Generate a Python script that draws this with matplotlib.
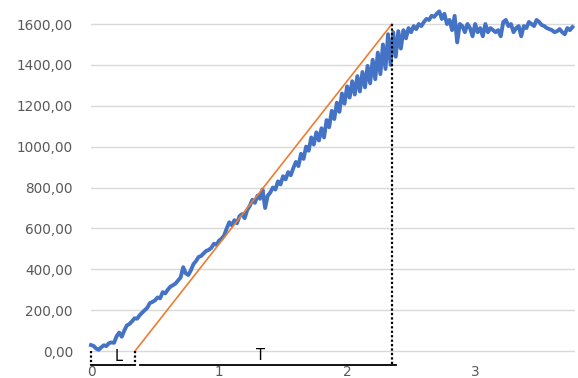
import numpy as np
import matplotlib.pyplot as plt
from matplotlib.ticker import FuncFormatter

# measured curve, sampled every 0.02 on the x axis
x_step = 0.02
values = [
    29, 25, 12, 6, 18, 28, 24, 38, 42, 40,
    72, 90, 70, 100, 125, 132, 145, 160, 158, 175,
    188, 200, 212, 235, 240, 248, 262, 258, 288, 282,
    300, 315, 322, 330, 345, 360, 410, 380, 372, 395,
    425, 440, 460, 465, 478, 490, 495, 505, 525, 520,
    540, 550, 565, 600, 630, 615, 640, 625, 660, 670,
    650, 690, 710, 740, 725, 760, 745, 790, 700, 760,
    775, 800, 790, 830, 815, 855, 840, 875, 860, 895,
    925, 905, 965, 940, 1000, 980, 1045, 1010, 1070, 1030,
    1090, 1045, 1130, 1095, 1175, 1135, 1215, 1170, 1260, 1210,
    1295, 1240, 1320, 1255, 1345, 1270, 1365, 1290, 1395, 1310,
    1425, 1330, 1460, 1355, 1500, 1380, 1550, 1400, 1560, 1440,
    1565, 1480, 1570, 1530, 1580, 1560, 1590, 1575, 1600, 1590,
    1610, 1625, 1620, 1640, 1635, 1650, 1662, 1625, 1650, 1600,
    1620, 1570, 1640, 1510, 1600, 1590, 1560, 1600, 1580, 1540,
    1600, 1560, 1580, 1540, 1600, 1560, 1580, 1570, 1560, 1570,
    1540, 1610, 1620, 1590, 1600, 1560, 1580, 1590, 1540, 1590,
    1580, 1610, 1600, 1590, 1620, 1610, 1595, 1590, 1580, 1575,
    1570, 1560, 1565, 1575, 1560, 1550, 1580, 1570, 1585,
]
x = np.arange(len(values)) * x_step

# tangent line and the two phases
L_end = 0.344
T_end = 2.35
y_top = 1600

y_ticks = [0, 200, 400, 600, 800, 1000, 1200, 1400, 1600]
x_ticks = [0, 1, 2, 3]

fig = plt.figure(figsize=(5.78, 3.78), dpi=100)
ax = fig.add_axes([91 / 578, 13 / 378, 484 / 578, 351.2 / 378])

ymin, ymax = -68.5, 1650
ax.set_xlim(0, 3.78)
ax.set_ylim(ymin, ymax)

for t in y_ticks:
    ax.axhline(t, color="#d9d9d9", lw=1, zorder=0)

ax.plot(x, values, color="#4472c4", lw=2.8, solid_joinstyle="round",
        clip_on=False, zorder=3)
ax.plot([L_end, T_end], [0, y_top], color="#ed7d31", lw=1.2, zorder=4)

dot = dict(color="black", ls=(0, (1, 1)), lw=1.6, clip_on=False, zorder=5)
ax.plot([0, 0], [0, ymin], **dot)
ax.plot([L_end, L_end], [0, ymin], **dot)
ax.plot([T_end, T_end], [y_top, ymin], **dot)

ax.plot([0, L_end], [ymin, ymin], color="black", lw=1.3, clip_on=False, zorder=5)
ax.plot([L_end + 0.035, T_end + 0.035], [ymin, ymin], color="black", lw=1.3,
        clip_on=False, zorder=5)
ax.text(L_end / 2 + 0.04, -29, "L", ha="center", va="center", fontsize=10.5)
ax.text(1.32, -20, "T", ha="center", va="center", fontsize=10.5)

ax.set_yticks(y_ticks)
ax.yaxis.set_major_formatter(FuncFormatter(lambda v, p: f"{v:.2f}".replace(".", ",")))
ax.set_xticks(x_ticks)
ax.tick_params(axis="both", length=0, colors="#595959", labelsize=9.8)
ax.tick_params(axis="y", pad=13)
ax.tick_params(axis="x", pad=0)
for s in ax.spines.values():
    s.set_visible(False)

fig.savefig("out.png", dpi=100)
